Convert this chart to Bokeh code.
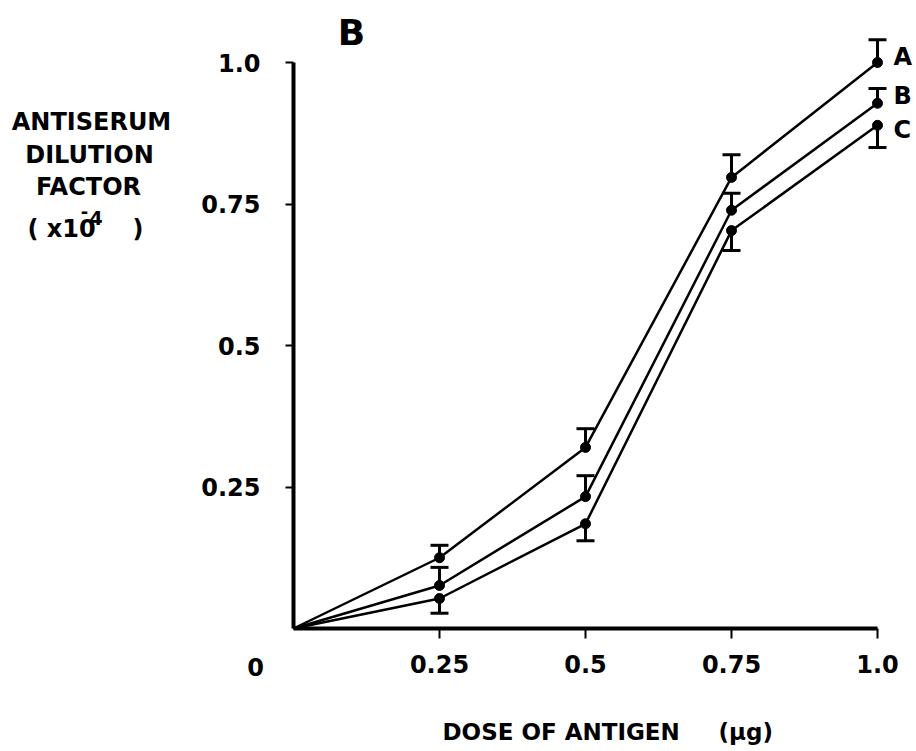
from bokeh.plotting import figure
from bokeh.models import Range1d, FixedTicker, Whisker, TeeHead, ColumnDataSource, Label
from bokeh.embed import file_html
from bokeh.resources import INLINE

# ---- data ----
dose = [0.0, 0.25, 0.5, 0.75, 1.0]
series_A = [0.0, 0.125, 0.320, 0.797, 1.000]
series_B = [0.0, 0.076, 0.233, 0.739, 0.928]
series_C = [0.0, 0.053, 0.185, 0.703, 0.889]
err_A_up = [0.022, 0.033, 0.040, 0.040]
err_B_up = [0.032, 0.037, 0.030, 0.026]
err_C_down = [0.026, 0.030, 0.035, 0.039]
series_names = ["A", "B", "C"]
x_ticks = [0.25, 0.5, 0.75, 1.0]
x_tick_labels = ["0.25", "0.5", "0.75", "1.0"]
y_ticks = [0.25, 0.5, 0.75, 1.0]
y_tick_labels = ["0.25", "0.5", "0.75", "1.0"]

# ---- layout helpers (pixel -> data, for annotation placement) ----
W, H = 916, 751
L, B = 293, 628          # pixel position of the origin
SX, SY = 584.0, 566.0    # pixels per data unit
def X(px):
    return (px - L) / SX
def Y(py):
    return (B - py) / SY

FONT = "DejaVu Sans"

p = figure(width=W, height=H,
           x_range=Range1d(X(0), X(W)), y_range=Range1d(Y(H), Y(0)),
           output_backend="svg", toolbar_location=None,
           min_border=0, min_border_left=0, min_border_right=0,
           min_border_top=0, min_border_bottom=0)
p.outline_line_color = None
p.grid.visible = False
p.background_fill_color = "white"
p.border_fill_color = "white"

for ax, ticks, labels in ((p.xaxis[0], x_ticks, x_tick_labels), (p.yaxis[0], y_ticks, y_tick_labels)):
    ax.fixed_location = 0
    ax.ticker = FixedTicker(ticks=ticks)
    ax.major_label_overrides = {t: s for t, s in zip(ticks, labels)}
    ax.bounds = (0, 1.0)
    ax.axis_line_width = 4
    ax.axis_line_color = "black"
    ax.major_tick_line_width = 2
    ax.major_tick_line_color = "black"
    ax.major_tick_in = 0
    ax.minor_tick_line_color = None
    ax.major_label_text_font = FONT
    ax.major_label_text_font_style = "bold"
    ax.major_label_text_font_size = "24px"
    ax.major_label_text_color = "black"

p.yaxis.major_tick_out = 8
p.yaxis.major_label_standoff = 25
p.xaxis.major_tick_out = 10
p.xaxis.major_label_standoff = 16

series = [series_A, series_B, series_C]
errs = [(err_A_up, "up"), (err_B_up, "up"), (err_C_down, "down")]
label_dy = [6, 7, -5]

for vals, (err, direction), name, dy in zip(series, errs, series_names, label_dy):
    p.line(dose, vals, line_width=2.5, color="black")
    p.scatter(dose[1:], vals[1:], size=10, color="black")
    base = dose[1:]
    pts = vals[1:]
    if direction == "up":
        lo = pts
        hi = [v + e for v, e in zip(pts, err)]
        w = Whisker(source=ColumnDataSource(dict(base=base, lower=lo, upper=hi)),
                    base="base", lower="lower", upper="upper", dimension="height",
                    line_width=3, line_color="black",
                    upper_head=TeeHead(size=18, line_width=3, line_color="black"),
                    lower_head=None)
    else:
        lo = [v - e for v, e in zip(pts, err)]
        hi = pts
        w = Whisker(source=ColumnDataSource(dict(base=base, lower=lo, upper=hi)),
                    base="base", lower="lower", upper="upper", dimension="height",
                    line_width=3, line_color="black",
                    lower_head=TeeHead(size=18, line_width=3, line_color="black"),
                    upper_head=None)
    p.add_layout(w)
    p.add_layout(Label(x=dose[-1], y=vals[-1], x_offset=16, y_offset=dy, text=name,
                       text_font=FONT, text_font_style="bold", text_font_size="24px",
                       text_align="left", text_baseline="middle", text_color="black"))

def lab(px, py, text, size="24px", align="center", baseline="middle"):
    p.add_layout(Label(x=X(px), y=Y(py), text=text, text_font=FONT, text_font_style="bold",
                       text_font_size=size, text_align=align, text_baseline=baseline,
                       text_color="black"))

# panel letter
lab(351, 32, "B", size="36px")
# origin label
lab(255, 666, "0")
# y-axis title
lab(91, 121, "ANTISERUM")
lab(89, 154, "DILUTION")
lab(88, 186, "FACTOR")
lab(27, 228, "( x10", align="left")
lab(84, 211, "-", size="18px")
lab(89, 217, "4", size="19px", align="left")
lab(132, 228, ")", align="left")
# x-axis title
lab(442, 731, "DOSE OF ANTIGEN", size="23px", align="left")
lab(718, 731, "(\u00b5g)", size="23px", align="left")

open("out.html", "w").write(file_html(p, INLINE))
